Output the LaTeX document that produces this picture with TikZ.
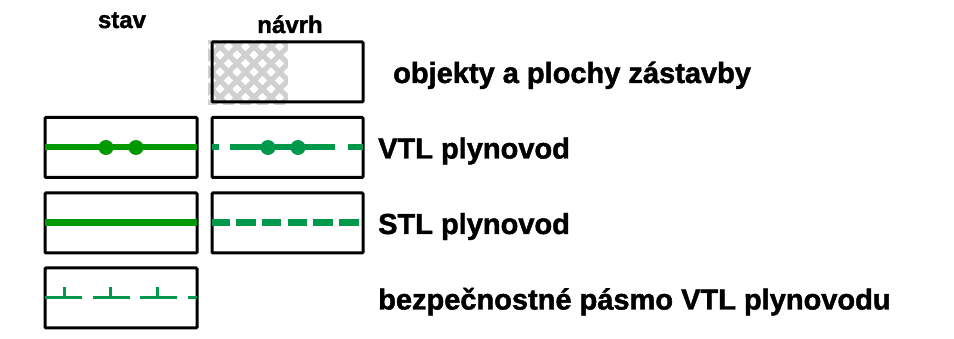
\documentclass[tikz,border=0pt]{standalone}
\usepackage{fontspec}
\setmainfont{Liberation Sans}[BoldFeatures={FakeBold=1.6}]
\definecolor{stavgreen}{RGB}{0,153,0}
\definecolor{navgreen}{RGB}{0,153,76}
\definecolor{hatchgrey}{RGB}{208,208,208}
\begin{document}
\begin{tikzpicture}[x=1pt,y=-1pt,
  legbox/.style={draw=black,line width=3pt,rounded corners=1pt,inner sep=0pt,outer sep=0pt,minimum width=152pt,minimum height=60pt},
  head/.style={font=\fontsize{24}{26}\selectfont\bfseries,anchor=base,inner sep=0pt},
  lab/.style={font=\fontsize{29}{31}\selectfont\bfseries,anchor=base west,inner sep=0pt},
  dotmark/.style={circle,fill,inner sep=0pt,minimum size=15pt}]
\useasboundingbox (0,0) rectangle (954,339);
% headers
\node[head] (hstav) at (122,28) {stav};
\node[head] (hnav) at (290,33) {návrh};
% row 1 hatch
\begin{scope}
  \clip (208,40) rectangle (288,105);
  \fill[hatchgrey] (208,40) rectangle (288,105);
  \foreach \i in {0,...,6}{
    \foreach \j in {0,...,8}{
      \fill[white] ({203+17*\i},{38+17*\j}) ++(0,-4.6) -- ++(4.6,4.6) -- ++(-4.6,4.6) -- ++(-4.6,-4.6) -- cycle;
      \fill[white] ({211.5+17*\i},{46.5+17*\j}) ++(0,-4.6) -- ++(4.6,4.6) -- ++(-4.6,4.6) -- ++(-4.6,-4.6) -- cycle;
    }
  }
\end{scope}
\node[legbox,minimum width=151pt] (n1) at (287.5,72) {};
% row 2
\node[legbox] (s2) at (121,147.5) {};
\node[legbox,minimum width=151pt] (n2) at (287.5,147.5) {};
\draw[stavgreen,line width=6pt] (s2.west) -- (s2.east);
\node[dotmark,stavgreen] (s2a) at (106,147.5) {};
\node[dotmark,stavgreen] (s2b) at (136,147.5) {};
\draw[navgreen,line width=6pt,dash pattern=on 7pt off 11pt on 105pt off 13pt on 30pt] (n2.west) -- (n2.east);
\node[dotmark,navgreen] (n2a) at (268,147.5) {};
\node[dotmark,navgreen] (n2b) at (298,147.5) {};
% row 3
\node[legbox] (s3) at (121,223) {};
\node[legbox,minimum width=151pt] (n3) at (287.5,223) {};
\draw[stavgreen,line width=7pt] (s3.west) -- (s3.east);
\draw[navgreen,line width=7pt,dash pattern=on 19.5pt off 6.2pt,dash phase=1.5pt] (n3.west) -- (n3.east);
% row 4
\node[legbox] (s4) at (121,298) {};
\draw[navgreen,line width=3pt,dash pattern=on 37pt off 10.5pt] (s4.west) -- (s4.east);
\foreach \d in {19,65,112}{
  \draw[navgreen,line width=3pt] ([xshift=\d pt]s4.west) -- ++(0,-11);
}
% labels
\node[lab] (l1) at (393,83) {objekty a plochy zástavby};
\node[lab] (l2) at (378,158.5) {VTL plynovod};
\node[lab] (l3) at (378,234) {STL plynovod};
\node[lab] (l4) at (378,309.5) {bezpečnostné pásmo VTL plynovodu};
\end{tikzpicture}
\end{document}
